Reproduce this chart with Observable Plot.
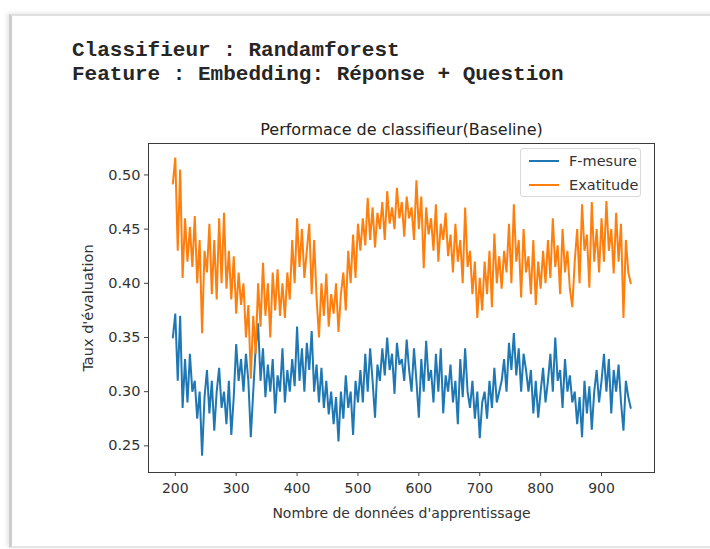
<!DOCTYPE html>
<html>
<head>
<meta charset="utf-8">
<script src="https://cdn.jsdelivr.net/npm/d3@7"></script>
<script src="https://cdn.jsdelivr.net/npm/@observablehq/plot@0.6"></script>
<style>
  html, body { margin: 0; padding: 0; background: #fff; }
  body { width: 710px; height: 549px; overflow: hidden; position: relative; font-family: "DejaVu Sans", sans-serif; }
  #card { position: absolute; left: 9px; top: 14px; width: 720px; height: 530px; background: #fff;
          border-left: 3px solid #cdcdcd; border-top: 2px solid #e0e0e0; border-bottom: 2px solid #e4e4e4;
          box-shadow: -2px -1px 4px rgba(0,0,0,0.10); }
  #head { position: absolute; left: 72px; top: 39px; font-family: "Liberation Mono", monospace; font-size: 21px;
          line-height: 24px; font-weight: bold; color: #262626; white-space: pre; }
  #chart { position: absolute; left: 0; top: 100px; }
  #legend { position: absolute; left: 520px; top: 148px; width: 121px; height: 49px; box-sizing: border-box;
            border: 1px solid #d9d9d9; border-radius: 3px; background: rgba(255,255,255,0.85);
            font-family: "DejaVu Sans", sans-serif; font-size: 14.5px; color: #333; }
  .row { position: absolute; left: 0; height: 20px; display: flex; align-items: center; }
  .swatch { width: 30px; height: 0; border-top: 2px solid; margin-left: 8px; margin-right: 10px; }
</style>
</head>
<body>
<div id="card"></div>
<div id="head">Classifieur : Randamforest
Feature : Embedding: Réponse + Question</div>
<div id="chart"></div>
<div id="legend"></div>
<script>
// ---- data ----
const seriesNames = ["F-mesure", "Exatitude"];
const seriesColors = ["#1f77b4", "#ff7f0e"];
const trainingSizes = d3.range(196, 949, 4); // Nombre de données d'apprentissage

const fMesure = [
  0.35, 0.372, 0.31, 0.37, 0.285,
  0.33, 0.29, 0.335, 0.30,
  0.31, 0.275, 0.30, 0.241, 0.295,
  0.32, 0.28, 0.31, 0.264, 0.30, 0.322, 0.285,
  0.30, 0.27, 0.31, 0.26,
  0.295, 0.344, 0.31, 0.33,
  0.30, 0.335, 0.31, 0.258, 0.30, 0.34,
  0.363, 0.31, 0.34, 0.295, 0.325, 0.30, 0.33,
  0.28, 0.315, 0.30, 0.34, 0.29, 0.32, 0.30,
  0.33, 0.305, 0.36, 0.31, 0.34, 0.30, 0.345, 0.32,
  0.356, 0.30, 0.325,
  0.29, 0.322, 0.285, 0.31, 0.279, 0.30, 0.27, 0.295, 0.254,
  0.30, 0.275, 0.315, 0.285, 0.30, 0.26, 0.31, 0.29,
  0.32, 0.29, 0.335, 0.30, 0.34, 0.31, 0.276, 0.325, 0.31,
  0.34, 0.315, 0.35, 0.32, 0.335, 0.298, 0.345, 0.325, 0.33, 0.31, 0.348, 0.32,
  0.30, 0.34, 0.31, 0.276, 0.33, 0.30, 0.347, 0.31,
  0.32, 0.29, 0.335, 0.30, 0.34, 0.28, 0.315, 0.30,
  0.325, 0.29, 0.31, 0.27, 0.33, 0.295, 0.34, 0.30, 0.285,
  0.31, 0.275, 0.30, 0.257, 0.29,
  0.30, 0.275, 0.31, 0.285, 0.322, 0.29, 0.30, 0.31,
  0.33, 0.30, 0.345, 0.32, 0.354, 0.315, 0.34, 0.30, 0.335, 0.32,
  0.30, 0.32, 0.28, 0.31, 0.276, 0.30, 0.322, 0.29,
  0.31, 0.335, 0.30, 0.35, 0.31, 0.32, 0.285, 0.33, 0.30, 0.315, 0.29,
  0.30, 0.27, 0.295, 0.258, 0.31, 0.28, 0.305, 0.265, 0.30, 0.32, 0.29,
  0.31, 0.335, 0.30, 0.33, 0.28, 0.32, 0.30,
  0.325, 0.29, 0.264, 0.31, 0.295, 0.285
];

const exatitude = [
  0.492, 0.516, 0.43, 0.505, 0.405,
  0.46, 0.42, 0.452, 0.415,
  0.462, 0.40, 0.44, 0.354, 0.43,
  0.41, 0.455, 0.39, 0.44, 0.385, 0.46, 0.40,
  0.465, 0.395, 0.43, 0.385,
  0.425, 0.372, 0.41, 0.38,
  0.40, 0.35, 0.38, 0.312, 0.37, 0.335,
  0.40, 0.36, 0.419, 0.37, 0.40, 0.35, 0.41,
  0.375, 0.413, 0.37, 0.40, 0.368, 0.41, 0.385,
  0.44, 0.40, 0.46, 0.415, 0.45, 0.405, 0.43, 0.455,
  0.39, 0.44, 0.387,
  0.35, 0.40, 0.37, 0.409, 0.36, 0.39, 0.372, 0.40, 0.355,
  0.39, 0.41, 0.375, 0.43, 0.40, 0.445, 0.405, 0.455,
  0.43, 0.46, 0.435, 0.479, 0.44, 0.47, 0.433, 0.465, 0.45,
  0.475, 0.44, 0.485, 0.455, 0.47, 0.45, 0.488, 0.46, 0.475, 0.443, 0.48, 0.46,
  0.47, 0.44, 0.495, 0.45, 0.48, 0.414, 0.47, 0.445,
  0.46, 0.43, 0.473, 0.42, 0.455, 0.44, 0.465, 0.425,
  0.445, 0.41, 0.455, 0.42, 0.44, 0.40, 0.47, 0.415, 0.43,
  0.39, 0.42, 0.368, 0.405, 0.375,
  0.42, 0.39, 0.43, 0.378, 0.446, 0.40, 0.425, 0.395,
  0.43, 0.41, 0.455, 0.40, 0.473, 0.42, 0.44, 0.387, 0.45, 0.41,
  0.425, 0.39, 0.44, 0.38, 0.42, 0.395, 0.43, 0.40,
  0.44, 0.405, 0.46, 0.415, 0.435, 0.39, 0.45, 0.41, 0.43, 0.395, 0.378,
  0.42, 0.45, 0.40, 0.473, 0.43, 0.445, 0.396, 0.475, 0.42, 0.45, 0.41,
  0.46, 0.42, 0.476, 0.43, 0.45, 0.409, 0.465,
  0.42, 0.455, 0.368, 0.44, 0.41, 0.40
];

const xTicks = [200, 300, 400, 500, 600, 700, 800, 900];
const yTicks = [0.25, 0.30, 0.35, 0.40, 0.45, 0.50];

const chartTitle = "Performace de classifieur(Baseline)";
const xLabel = "Nombre de données d'apprentissage";
const yLabel = "Taux d'évaluation";

// ---- build table ----
const rows = [];
[fMesure, exatitude].forEach((vals, s) => {
  vals.forEach((v, i) => rows.push({x: trainingSizes[i], y: v, series: seriesNames[s]}));
});

const plot = Plot.plot({
  width: 710,
  height: 440,
  marginLeft: 148,
  marginRight: 56,
  marginTop: 43,
  marginBottom: 68,
  style: {fontFamily: "DejaVu Sans, sans-serif", fontSize: "14px", color: "#333", background: "transparent"},
  x: {domain: [156, 987]},
  y: {domain: [0.2254, 0.529]},
  color: {domain: seriesNames, range: seriesColors},
  marks: [
    Plot.line(rows, {x: "x", y: "y", z: "series", stroke: "series", strokeWidth: 2, strokeLinejoin: "miter"}),
    Plot.frame({stroke: "#3a3a3a", strokeWidth: 1}),
    Plot.axisX({ticks: xTicks, tickSize: 4, tickPadding: 7, fontSize: 14, stroke: "#444",
                label: xLabel, labelAnchor: "center", labelArrow: "none", labelOffset: 45}),
    Plot.axisY({ticks: yTicks, tickSize: 4, tickPadding: 4, fontSize: 14.5, stroke: "#444",
                tickFormat: d3.format(".2f"),
                label: yLabel, labelAnchor: "center", labelArrow: "none", labelOffset: 66}),
    Plot.text([chartTitle], {frameAnchor: "top", dy: -9, lineAnchor: "bottom", fontSize: 16, fill: "#222"})
  ]
});
document.getElementById("chart").appendChild(plot);

// ---- legend ----
const legend = document.getElementById("legend");
seriesNames.forEach((name, i) => {
  const row = document.createElement("div");
  row.className = "row";
  row.style.top = (2 + i * 24) + "px";
  const sw = document.createElement("span");
  sw.className = "swatch";
  sw.style.borderTopColor = seriesColors[i];
  const label = document.createElement("span");
  label.textContent = name;
  row.appendChild(sw);
  row.appendChild(label);
  legend.appendChild(row);
});
</script>
</body>
</html>
